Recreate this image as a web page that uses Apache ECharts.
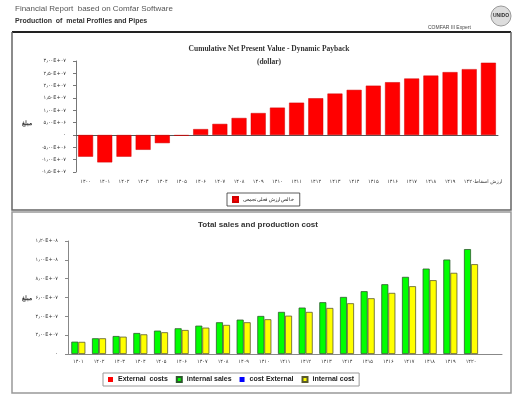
<!DOCTYPE html>
<html>
<head>
<meta charset="utf-8">
<script src="https://cdn.jsdelivr.net/npm/echarts@6/dist/echarts.min.js"></script>
<style>
  html, body { margin: 0; padding: 0; background: #fff; }
  #chart { width: 521px; height: 403px; }
</style>
</head>
<body>
<div id="chart"></div>
<script>
// cumulative NPV, million dollars
const npvCategories = ['۱۴۰۰', '۱۴۰۱', '۱۴۰۲', '۱۴۰۳', '۱۴۰۴', '۱۴۰۵', '۱۴۰۶', '۱۴۰۷', '۱۴۰۸', '۱۴۰۹', '۱۴۱۰',
  '۱۴۱۱', '۱۴۱۲', '۱۴۱۳', '۱۴۱۴', '۱۴۱۵', '۱۴۱۶', '۱۴۱۷', '۱۴۱۸', '۱۴۱۹', '۱۴۲۰', 'ارزش اسقاط']
const npvValues = [-8.8, -11.1, -8.8, -6.0, -3.3, -0.3, 2.4, 4.5, 6.9, 8.9, 11.1,
  13.1, 14.9, 16.8, 18.3, 20.0, 21.4, 22.9, 24.1, 25.5, 26.7, 29.3]
const npvTicks = { min: -15, max: 30, step: 5 }

// sales and costs, units of 1e7
const salesCategories = ['۱۴۰۱', '۱۴۰۲', '۱۴۰۳', '۱۴۰۴', '۱۴۰۵', '۱۴۰۶', '۱۴۰۷', '۱۴۰۸', '۱۴۰۹', '۱۴۱۰',
  '۱۴۱۱', '۱۴۱۲', '۱۴۱۳', '۱۴۱۴', '۱۴۱۵', '۱۴۱۶', '۱۴۱۷', '۱۴۱۸', '۱۴۱۹', '۱۴۲۰', '']
const externalCosts = [0, 0, 0, 0, 0, 0, 0, 0, 0, 0, 0, 0, 0, 0, 0, 0, 0, 0, 0, 0, null]
const internalSales = [1.31, 1.67, 1.91, 2.23, 2.48, 2.73, 3.01, 3.37, 3.65, 4.04,
  4.47, 4.93, 5.50, 6.06, 6.67, 7.41, 8.19, 9.07, 10.03, 11.14, null]
const costExternal = [0, 0, 0, 0, 0, 0, 0, 0, 0, 0, 0, 0, 0, 0, 0, 0, 0, 0, 0, 0, null]
const internalCost = [1.29, 1.67, 1.84, 2.09, 2.31, 2.55, 2.80, 3.09, 3.37, 3.69,
  4.07, 4.47, 4.89, 5.39, 5.92, 6.49, 7.20, 7.84, 8.62, 9.54, null]
const salesTicks = { min: 0, max: 12, step: 2 }

const faDigits = '۰۱۲۳۴۵۶۷۸۹'
const toFa = (s) => String(s).replace(/[0-9]/g, d => faDigits[d])

// 3e7 -> ۳٫۰۰E+۰۷
const sci = (v) => {
  if (v === 0) return '۰'
  const [m, e] = Math.abs(v).toExponential(2).split('e')
  const exp = e[0] + e.slice(1).padStart(2, '0')
  return (v < 0 ? '-' : '') + toFa(m.replace('.', '٫') + 'E' + exp)
}

const chart = echarts.init(document.getElementById('chart'))

const tinyLabel = { fontSize: 5, color: '#333', fontFamily: 'DejaVu Sans' }

chart.setOption({
  animation: false,
  backgroundColor: '#fff',
  title: [
    {
      text: 'Cumulative Net Present Value - Dynamic Payback\n(dollar)',
      left: 264, top: 38, textAlign: 'center',
      textStyle: { fontSize: 7.5, fontWeight: 'bold', fontFamily: 'Liberation Serif', color: '#333', lineHeight: 13, align: 'center' }
    },
    {
      text: 'Total sales and production cost',
      left: 253, top: 216, textAlign: 'center',
      textStyle: { fontSize: 8, fontWeight: 'bold', fontFamily: 'Liberation Sans', color: '#333' }
    }
  ],
  legend: [
    {
      data: ['خالص ارزش فعلی تجمعی'],
      left: 227, top: 193,
      itemWidth: 5, itemHeight: 5, icon: 'rect', itemGap: 3,
      padding: [3, 6, 3, 5],
      borderColor: '#333', borderWidth: 0.8,
      textStyle: { fontSize: 4.5, color: '#222' }
    },
    {
      data: ['External  costs', 'internal sales', 'cost External', 'internal cost'],
      left: 103, top: 373,
      itemWidth: 5, itemHeight: 5, icon: 'rect', itemGap: 8,
      padding: [3, 5, 3, 5],
      borderColor: '#999', borderWidth: 1,
      textStyle: { fontSize: 7, color: '#222', fontWeight: 'bold', fontFamily: 'Liberation Sans' }
    }
  ],
  grid: [
    { left: 76, right: 23, top: 61, height: 111 },
    { left: 68, right: 19, top: 241, height: 113 }
  ],
  xAxis: [
    {
      type: 'category', gridIndex: 0, data: npvCategories,
      axisLine: { show: false, onZero: false }, axisTick: { show: false },
      axisLabel: { ...tinyLabel, margin: 7, interval: 0 }
    },
    {
      type: 'category', gridIndex: 0, data: npvCategories, position: 'bottom',
      axisLine: { onZero: true, lineStyle: { color: '#555', width: 1 } },
      axisTick: { length: 2, lineStyle: { color: '#555' } },
      axisLabel: { show: false }
    },
    {
      type: 'category', gridIndex: 1, data: salesCategories,
      axisLine: { lineStyle: { color: '#888', width: 1 } },
      axisTick: { length: 3, lineStyle: { color: '#888' } },
      axisLabel: { ...tinyLabel, margin: 5, interval: 0 }
    }
  ],
  yAxis: [
    {
      type: 'value', gridIndex: 0,
      min: npvTicks.min, max: npvTicks.max, interval: npvTicks.step,
      axisLine: { show: true, lineStyle: { color: '#777' } },
      axisTick: { show: true, length: 3, lineStyle: { color: '#777' } },
      splitLine: { show: false },
      axisLabel: { ...tinyLabel, margin: 10, formatter: v => sci(v * 1e6) }
    },
    {
      type: 'value', gridIndex: 1,
      min: salesTicks.min, max: salesTicks.max, interval: salesTicks.step,
      axisLine: { show: true, lineStyle: { color: '#888' } },
      axisTick: { show: true, length: 3, lineStyle: { color: '#888' } },
      splitLine: { show: false },
      axisLabel: { ...tinyLabel, margin: 10, formatter: v => sci(v * 1e7) }
    }
  ],
  series: [
    {
      name: 'خالص ارزش فعلی تجمعی', type: 'bar', xAxisIndex: 0, yAxisIndex: 0,
      data: npvValues, barCategoryGap: '22%',
      itemStyle: { color: '#ff0000', borderColor: '#d00000', borderWidth: 0.5 }
    },
    {
      name: 'External  costs', type: 'bar', xAxisIndex: 2, yAxisIndex: 1, stack: 'sales',
      data: externalCosts, itemStyle: { color: '#ff0000' }
    },
    {
      name: 'internal sales', type: 'bar', xAxisIndex: 2, yAxisIndex: 1, stack: 'sales',
      data: internalSales, barCategoryGap: '32%', barGap: '0%',
      itemStyle: { color: '#00ff00', borderColor: '#2d5a2d', borderWidth: 0.8 }
    },
    {
      name: 'cost External', type: 'bar', xAxisIndex: 2, yAxisIndex: 1, stack: 'cost',
      data: costExternal, itemStyle: { color: '#0000ff' }
    },
    {
      name: 'internal cost', type: 'bar', xAxisIndex: 2, yAxisIndex: 1, stack: 'cost',
      data: internalCost, barCategoryGap: '32%', barGap: '0%',
      itemStyle: { color: '#ffff00', borderColor: '#5a5a2d', borderWidth: 0.8 }
    }
  ],
  graphic: [
    // page header
    { type: 'text', left: 15, top: 5, style: { text: 'Financial Report  based on Comfar Software', fontSize: 8, fontFamily: 'Liberation Sans', fill: '#555' } },
    { type: 'text', left: 15, top: 18, style: { text: 'Production  of  metal Profiles and Pipes', fontSize: 7, fontWeight: 'bold', fontFamily: 'Liberation Sans', fill: '#333' } },
    { type: 'text', left: 428, top: 25, style: { text: 'COMFAR III Expert', fontSize: 5, fontFamily: 'Liberation Sans', fill: '#444' } },
    { type: 'circle', shape: { cx: 501, cy: 16, r: 10 }, style: { fill: '#ddd', stroke: '#999', lineWidth: 1 } },
    { type: 'text', x: 501, y: 16, style: { text: 'UNIDO', fontSize: 5, fontWeight: 'bold', fill: '#333', align: 'center', verticalAlign: 'middle' } },
    { type: 'line', shape: { x1: 12, y1: 32, x2: 511, y2: 32 }, style: { stroke: '#222', lineWidth: 2 } },
    // top panel frame
    { type: 'polyline', shape: { points: [[12, 32], [12, 210], [511, 210], [511, 32]] }, style: { fill: null, stroke: '#666', lineWidth: 1.5 } },
    // bottom panel frame
    { type: 'rect', shape: { x: 12, y: 212, width: 499, height: 181 }, style: { fill: null, stroke: '#999', lineWidth: 1.5 } },
    // y axis names
    { type: 'text', left: 22, top: 120, style: { text: 'مبلغ', fontSize: 6, fontWeight: 'bold', fill: '#333' } },
    { type: 'text', left: 22, top: 295, style: { text: 'مبلغ', fontSize: 6, fontWeight: 'bold', fill: '#333' } }
  ]
})
</script>
</body>
</html>
